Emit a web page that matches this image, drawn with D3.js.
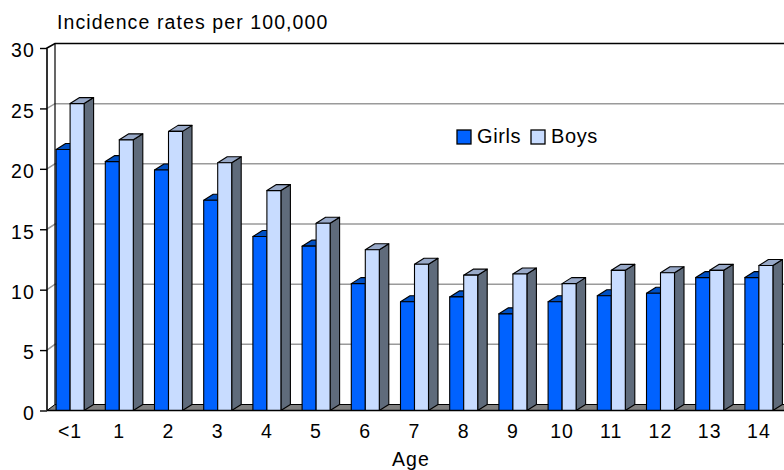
<!DOCTYPE html>
<html><head><meta charset="utf-8">
<script src="https://cdn.jsdelivr.net/npm/d3@7/dist/d3.min.js"></script>
<style>
html,body{margin:0;padding:0;background:#fff;}
svg{display:block;}
text{font-family:"Liberation Sans",Arial,sans-serif;fill:#000;}
</style></head>
<body>
<svg id="chart" width="784" height="470"></svg>
<script>
const categories = ["<1","1","2","3","4","5","6","7","8","9","10","11","12","13","14"];
const girls = [21.6,20.6,19.9,17.4,14.4,13.6,10.5,9.0,9.4,8.0,9.0,9.5,9.7,11.0,11.0];
const boys  = [25.4,22.4,23.1,20.5,18.2,15.5,13.3,12.1,11.2,11.3,10.5,11.6,11.4,11.6,12.0];
const seriesNames = ["Girls","Boys"];
const yTicks = [0,5,10,15,20,25,30];
const titleText = "Incidence rates per 100,000";
const xTitle = "Age";

const colors = {
  Girls:{front:"#0062ff", top:"#0050c4", side:"#003a90"},
  Boys:{front:"#c8dcff", top:"#98a9c8", side:"#5f6b7b"}
};

const svg = d3.select("#chart");
const W = 784;
const frontX = 47, backX = 55;
const yF = d3.scaleLinear().domain([0,30]).range([410.5,48]);
const yB = d3.scaleLinear().domain([0,30]).range([404.5,43.5]);
const x = d3.scaleBand().domain(categories).range([45.5, 45.5+15*49.2]).padding(0);
const xs = d3.scaleBand().domain(seriesNames).range([0,28]);
const bdx = 9.5, bdy = -6;
const fs = "19.5px";
const ls = "1.1px";

// left wall
svg.append("polygon")
  .attr("points", [[frontX,yF(30)],[backX,yB(30)],[backX,yB(0)],[frontX,yF(0)]].map(p=>p.join(",")).join(" "))
  .attr("fill","#fff").attr("stroke","none");

// floor
svg.append("polygon")
  .attr("points", [[frontX,yF(0)],[W+20,yF(0)],[W+20,yB(0)],[backX,yB(0)]].map(p=>p.join(",")).join(" "))
  .attr("fill","#808080").attr("stroke","#000").attr("stroke-width",1);

// gridlines
yTicks.filter(v=>v>0 && v<30).forEach(v=>{
  svg.append("path")
    .attr("d", `M${frontX},${yF(v)}L${backX},${yB(v)}L${W+5},${yB(v)}`)
    .attr("fill","none").attr("stroke","#9a9a9a").attr("stroke-width",1.5);
});

// walls outline
svg.append("path")
  .attr("d", `M${frontX},${yF(0)}L${frontX},${yF(30)}L${backX},${yB(30)}L${W+5},${yB(30)}`)
  .attr("fill","none").attr("stroke","#000").attr("stroke-width",1.6);
svg.append("path")
  .attr("d", `M${backX},${yB(30)}L${backX},${yB(0)}`)
  .attr("fill","none").attr("stroke","#000").attr("stroke-width",1.2);

// bars
const barsG = svg.append("g");
categories.forEach((cat,i)=>{
  const c = x(cat) + x.bandwidth()/2;
  const vals = {Girls:girls[i], Boys:boys[i]};
  seriesNames.forEach(s=>{
    const x0 = c - 14 + xs(s), w = xs.bandwidth();
    const yt = yF(vals[s]), yb = yF(0);
    const g = barsG.append("g").attr("stroke","#000").attr("stroke-width",1.1).attr("stroke-linejoin","round");
    g.append("polygon").attr("points",[[x0+w,yb],[x0+w+bdx,yb+bdy],[x0+w+bdx,yt+bdy],[x0+w,yt]].map(p=>p.join(",")).join(" "))
      .attr("fill",colors[s].side);
    g.append("polygon").attr("points",[[x0,yt],[x0+w,yt],[x0+w+bdx,yt+bdy],[x0+bdx,yt+bdy]].map(p=>p.join(",")).join(" "))
      .attr("fill",colors[s].top);
    g.append("rect").attr("x",x0).attr("y",yt).attr("width",w).attr("height",yb-yt)
      .attr("fill",colors[s].front);
  });
});

// front zero axis line
svg.append("line").attr("x1",frontX).attr("x2",W+5).attr("y1",yF(0)).attr("y2",yF(0))
  .attr("stroke","#000").attr("stroke-width",1.4);

// y axis ticks
const yAxis = d3.axisLeft(yF).tickValues(yTicks).tickSize(7).tickPadding(5).tickFormat(d3.format("d"));
const ya = svg.append("g").attr("transform",`translate(${frontX},0)`).call(yAxis);
ya.select(".domain").remove();
ya.selectAll(".tick line").attr("stroke","#000").attr("stroke-width",1.4);
ya.selectAll(".tick text").attr("font-size",fs)
  .attr("fill","#000").attr("dy","0.45em").style("letter-spacing",ls);

// x labels
const xa = svg.append("g");
categories.forEach(cat=>{
  xa.append("text").attr("x", x(cat)+x.bandwidth()/2).attr("y",438)
    .attr("text-anchor","middle").attr("font-size",fs).style("letter-spacing",ls).text(cat);
});
svg.append("text").attr("x",411).attr("y",466).attr("text-anchor","middle")
  .attr("font-size",fs).style("letter-spacing",ls).text(xTitle);

// title
svg.append("text").attr("x",57).attr("y",29).attr("font-size",fs).style("letter-spacing",ls).text(titleText);

// legend
const leg = svg.append("g").attr("transform","translate(457,130)");
const legX = [0, 74];
seriesNames.forEach((s,i)=>{
  leg.append("rect").attr("x",legX[i]).attr("y",0).attr("width",14).attr("height",14)
    .attr("fill",colors[s].front).attr("stroke","#000").attr("stroke-width",1.3);
  leg.append("text").attr("x",legX[i]+20).attr("y",12.5).attr("font-size","20px").style("letter-spacing","0.6px").text(s);
});
</script>
</body></html>
